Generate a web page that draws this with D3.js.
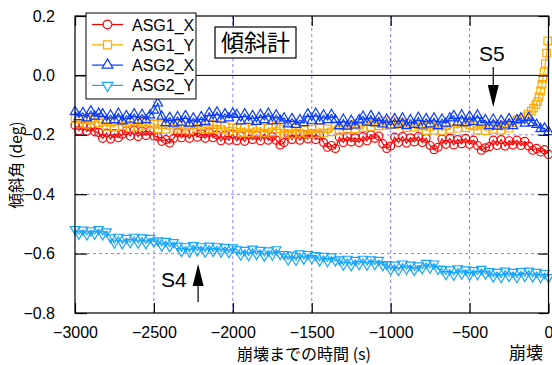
<!DOCTYPE html>
<html>
<head>
<meta charset="utf-8">
<script src="https://cdn.jsdelivr.net/npm/d3@7/dist/d3.min.js"></script>
<style>
  html, body { margin: 0; padding: 0; background: #fff; }
  svg { display: block; }
  .num { font-family: "Liberation Sans", Arial, sans-serif; }
  .jp { font-family: "Noto Sans CJK JP", "Liberation Sans", sans-serif; }
</style>
</head>
<body>
<script>
// Sampling times (s before collapse), 25 s step
const time = d3.range(-3000, 1, 25);

// Tilt angle (deg) for each sensor
const asg1X = [
  -0.168,-0.186,-0.170,-0.188,-0.174,-0.190,
  -0.192,-0.212,-0.194,-0.214,-0.196,-0.210,-0.198,
  -0.186,-0.204,-0.184,-0.206,-0.188,-0.202,-0.186,-0.204,
  -0.206,-0.222,-0.216,-0.228,-0.212,
  -0.192,-0.210,-0.194,-0.212,-0.190,-0.208,-0.196,-0.212,-0.192,-0.210,
  -0.200,-0.220,-0.202,-0.218,-0.198,-0.220,-0.204,-0.222,-0.200,-0.216,-0.202,-0.220,-0.198,-0.218,-0.206,
  -0.218,-0.234,-0.226,
  -0.198,-0.216,-0.196,-0.218,-0.200,-0.214,-0.196,-0.216,-0.202,
  -0.226,-0.242,-0.236,-0.246,
  -0.208,-0.226,-0.206,-0.224,-0.210,-0.226,-0.206,-0.220,
  -0.200,-0.212,-0.204,
  -0.230,-0.246,-0.238,
  -0.208,-0.226,-0.206,-0.228,-0.210,-0.224,-0.206,-0.226,-0.212,
  -0.236,-0.250,-0.242,
  -0.214,-0.232,-0.212,-0.234,-0.216,-0.230,-0.212,-0.232,-0.218,
  -0.236,-0.252,-0.244,-0.240,
  -0.218,-0.236,-0.216,-0.238,-0.220,-0.234,-0.218,-0.236,-0.222,
  -0.238,-0.252,-0.246,-0.258,-0.250,
  -0.266
];

// ASG1_Y up to -250 s on the common grid, then the final rise on a finer grid
const asg1Y = [
  -0.146,-0.162,-0.148,-0.164,-0.150,-0.144,-0.160,
  -0.156,-0.172,-0.158,-0.174,-0.154,-0.170,-0.160,-0.176,-0.156,-0.172,-0.158,-0.170,-0.162,
  -0.164,-0.180,-0.166,-0.182,-0.168,-0.178,-0.164,-0.182,-0.170,-0.184,-0.166,-0.178,-0.168,-0.180,
  -0.164,-0.180,-0.166,-0.182,-0.172,-0.188,-0.176,
  -0.178,-0.192,-0.176,-0.194,-0.180,-0.190,-0.176,-0.194,-0.178,-0.190,-0.170,
  -0.180,-0.196,-0.182,-0.198,-0.178,-0.194,-0.184,-0.198,-0.180,-0.196,-0.178,-0.194,-0.180,-0.190,
  -0.168,-0.184,-0.170,-0.182,-0.166,-0.180,-0.168,-0.176,
  -0.156,-0.172,-0.158,-0.170,-0.154,-0.168,-0.152,-0.166,-0.156,
  -0.160,-0.176,-0.162,-0.174,-0.166,
  -0.170,-0.186,-0.172,-0.184,-0.168,-0.186,-0.170,-0.182,
  -0.162,-0.178,-0.160,-0.176,-0.166,
  -0.170,-0.184,-0.168,-0.186,-0.172,-0.182,-0.166,-0.184,-0.170,-0.178
];
const tailTime = [-225,-200,-175,-150,-130,-110,-95,-80,-70,-60,-50,-42,-35,-28,-20,-12,-5];
const asg1YTail = [-0.160,-0.150,-0.146,-0.140,-0.130,-0.120,-0.110,-0.098,-0.088,-0.072,-0.052,-0.030,-0.010,0.012,0.040,0.075,0.116];

const asg2X = [
  -0.122,-0.140,-0.126,-0.144,-0.120,-0.138,-0.128,
  -0.130,-0.152,-0.134,-0.150,-0.128,-0.154,-0.136,-0.148,-0.130,-0.152,-0.132,-0.150,-0.134,
  -0.118,-0.094,
  -0.138,-0.160,-0.142,-0.162,-0.140,-0.158,-0.136,-0.162,-0.144,-0.160,-0.140,-0.156,
  -0.126,-0.146,-0.124,-0.148,-0.130,-0.144,-0.128,
  -0.132,-0.154,-0.130,-0.152,-0.136,-0.156,-0.132,-0.150,-0.128,-0.154,-0.134,-0.152,
  -0.144,-0.164,-0.146,-0.166,-0.150,-0.160,
  -0.130,-0.152,-0.128,-0.154,-0.134,-0.150,-0.132,
  -0.150,-0.170,-0.148,-0.172,-0.152,-0.168,-0.150,
  -0.138,-0.158,-0.136,-0.160,-0.142,-0.164,
  -0.148,-0.168,-0.146,-0.166,-0.144,-0.170,-0.150,-0.166,-0.142,-0.168,-0.146,-0.164,-0.144,-0.170,-0.148,-0.162,-0.144,
  -0.136,-0.158,-0.134,-0.160,-0.138,-0.156,-0.134,-0.158,
  -0.150,-0.170,-0.148,-0.172,-0.152,-0.168,-0.146,-0.170,-0.150,
  -0.144,-0.162,-0.142,-0.160,
  -0.166,-0.180,-0.178,-0.190
];

const asg2Y = [
  -0.518,-0.534,-0.520,-0.536,-0.522,-0.534,-0.518,-0.536,-0.526,
  -0.546,-0.564,-0.544,-0.566,-0.548,-0.562,-0.544,-0.564,-0.546,-0.566,-0.548,-0.560,
  -0.556,-0.574,-0.558,-0.576,-0.562,
  -0.574,-0.592,-0.576,-0.594,-0.572,-0.590,-0.576,-0.594,-0.574,-0.592,-0.576,-0.594,-0.578,-0.596,-0.580,
  -0.586,-0.604,-0.588,-0.606,-0.584,-0.602,-0.588,-0.608,-0.590,-0.604,-0.586,-0.602,
  -0.602,-0.620,-0.604,-0.622,-0.600,-0.618,-0.602,-0.616,
  -0.606,-0.624,-0.608,-0.626,-0.610,-0.624,
  -0.620,-0.638,-0.618,-0.640,-0.622,-0.636,-0.618,-0.638,-0.620,-0.636,-0.622,-0.640,
  -0.636,-0.654,-0.638,-0.656,-0.634,-0.652,-0.638,-0.656,-0.640,-0.650,
  -0.632,-0.648,-0.634,-0.652,
  -0.652,-0.670,-0.654,-0.672,-0.650,-0.668,-0.654,-0.672,-0.656,-0.670,-0.652,-0.668,
  -0.660,-0.678,-0.662,-0.680,-0.658,-0.676,-0.662,-0.680,-0.660,-0.676,-0.658,-0.678,-0.662,-0.680,-0.666,
  -0.680
];

const seriesNames = ["ASG1_X", "ASG1_Y", "ASG2_X", "ASG2_Y"];
const seriesColors = ["#ff0000", "#ffaa00", "#0a3cff", "#17a6ff"];
const xTicks = [-3000, -2500, -2000, -1500, -1000, -500, 0];
const yTicks = [0.2, 0.0, -0.2, -0.4, -0.6, -0.8];

const W = 552, H = 365;
const svg = d3.select("body").append("svg").attr("width", W).attr("height", H);

const x = d3.scaleLinear().domain([-3000, 0]).range([75, 548.5]);
const y = d3.scaleLinear().domain([-0.8, 0.2]).range([313, 16]);
const fmtY = v => d3.format(".1f")(v).replace("-", "\u2212");
const fmtX = v => String(v).replace("-", "\u2212");

// grid
const grid = svg.append("g");
xTicks.slice(1, -1).forEach(t => {
  grid.append("line").attr("x1", x(t)).attr("x2", x(t)).attr("y1", y(0.2)).attr("y2", y(-0.8))
    .attr("stroke", "#8080ff").attr("stroke-width", 1).attr("stroke-dasharray", "3,3");
});
yTicks.slice(1, -1).forEach(v => {
  const zero = v === 0;
  grid.append("line").attr("x1", x(-3000)).attr("x2", x(0)).attr("y1", y(v)).attr("y2", y(v))
    .attr("stroke", zero ? "#000" : "#8080ff").attr("stroke-width", 1)
    .attr("stroke-dasharray", zero ? null : "3,3");
});

// series
const line = d3.line().x(d => x(d[0])).y(d => y(d[1]));
const series = [
  time.map((t, i) => [t, asg1X[i]]),
  time.slice(0, asg1Y.length).map((t, i) => [t, asg1Y[i]]).concat(tailTime.map((t, i) => [t, asg1YTail[i]])),
  time.map((t, i) => [t, asg2X[i]]),
  time.map((t, i) => [t, asg2Y[i]])
];
const symbolTypes = [d3.symbolCircle, d3.symbolSquare, d3.symbolTriangle, d3.symbolTriangle];
const symbols = [
  d3.symbol().type(d3.symbolCircle).size(50),
  d3.symbol().type(d3.symbolSquare).size(56),
  d3.symbol().type(d3.symbolTriangle).size(38),
  d3.symbol().type(d3.symbolTriangle).size(38)
];
const rot = [0, 0, 0, 180];

series.forEach((data, k) => {
  const g = svg.append("g");
  g.append("path").datum(data).attr("d", line).attr("fill", "none")
    .attr("stroke", seriesColors[k]).attr("stroke-width", 1.2);
  g.selectAll("path.m").data(data).join("path").attr("class", "m")
    .attr("d", symbols[k]())
    .attr("transform", d => `translate(${x(d[0])},${y(d[1])}) rotate(${rot[k]})`)
    .attr("fill", "none").attr("stroke", seriesColors[k]).attr("stroke-width", 1.2);
});

// frame and inward ticks
svg.append("rect").attr("x", x(-3000)).attr("y", y(0.2)).attr("width", x(0) - x(-3000))
  .attr("height", y(-0.8) - y(0.2)).attr("fill", "none").attr("stroke", "#000").attr("stroke-width", 1.2);
const axB = d3.axisBottom(x).tickValues(xTicks).tickSizeInner(-10).tickSizeOuter(0).tickFormat(fmtX).tickPadding(14);
const axT = d3.axisTop(x).tickValues(xTicks).tickSizeInner(-10).tickSizeOuter(0).tickFormat("");
const axL = d3.axisLeft(y).tickValues(yTicks).tickSizeInner(-12).tickSizeOuter(0).tickFormat(fmtY).tickPadding(20);
const axR = d3.axisRight(y).tickValues(yTicks).tickSizeInner(-10).tickSizeOuter(0).tickFormat("");
[
  [axB, `translate(0,${y(-0.8)})`],
  [axT, `translate(0,${y(0.2)})`],
  [axL, `translate(${x(-3000)},0)`],
  [axR, `translate(${x(0)},0)`]
].forEach(([ax, tr]) => {
  const g = svg.append("g").attr("transform", tr).call(ax);
  g.select(".domain").remove();
  g.selectAll(".tick line").attr("stroke", "#000").attr("stroke-width", 1.2);
  g.selectAll("text").attr("class", "num").attr("font-size", 16).attr("fill", "#000");
});

// axis titles
svg.append("text").attr("class", "jp").attr("x", 304).attr("y", 360).attr("text-anchor", "middle")
  .attr("font-size", 16).text("崩壊までの時間 (s)");
svg.append("text").attr("class", "jp").attr("x", 509).attr("y", 359).attr("font-size", 17).text("崩壊");
svg.append("text").attr("class", "jp").attr("transform", "translate(22,165) rotate(-90)")
  .attr("text-anchor", "middle").attr("font-size", 15.5).text("傾斜角 (deg)");

// legend
const leg = svg.append("g");
leg.append("rect").attr("x", 86).attr("y", 13).attr("width", 110).attr("height", 86)
  .attr("fill", "#fff").attr("stroke", "#000").attr("stroke-width", 1);
seriesNames.forEach((name, k) => {
  const cy = 24.5 + k * 20.3;
  leg.append("line").attr("x1", 92).attr("x2", 123).attr("y1", cy).attr("y2", cy)
    .attr("stroke", seriesColors[k]).attr("stroke-width", 1.2);
  leg.append("path").attr("d", d3.symbol().type(symbolTypes[k]).size([60, 64, 50, 50][k])())
    .attr("transform", `translate(107.5,${cy}) rotate(${rot[k]})`)
    .attr("fill", "#fff").attr("stroke", seriesColors[k]).attr("stroke-width", 1.2);
  leg.append("text").attr("class", "num").attr("x", 132).attr("y", cy + 6)
    .attr("font-size", 16).text(name);
});

// title box
svg.append("rect").attr("x", 215).attr("y", 27).attr("width", 81).attr("height", 31)
  .attr("fill", "#fff").attr("stroke", "#000").attr("stroke-width", 1.2);
svg.append("text").attr("class", "jp").attr("x", 255.5).attr("y", 51).attr("text-anchor", "middle")
  .attr("font-size", 23).text("傾斜計");

// event markers
function arrow(px, yStart, yTip, label, lx, ly) {
  const dir = yTip > yStart ? 1 : -1;
  svg.append("line").attr("x1", px).attr("x2", px).attr("y1", yStart).attr("y2", yTip - dir * 20)
    .attr("stroke", "#000").attr("stroke-width", 1.2);
  svg.append("path").attr("d", `M${px - 5.5},${yTip - dir * 22} L${px + 5.5},${yTip - dir * 22} L${px},${yTip} Z`)
    .attr("fill", "#000");
  svg.append("text").attr("class", "num").attr("x", lx).attr("y", ly).attr("font-size", 21).text(label);
}
arrow(x(-350), 67, 107, "S5", 479, 61);
arrow(x(-2220), 302, 264, "S4", 161, 287);
</script>
</body>
</html>
